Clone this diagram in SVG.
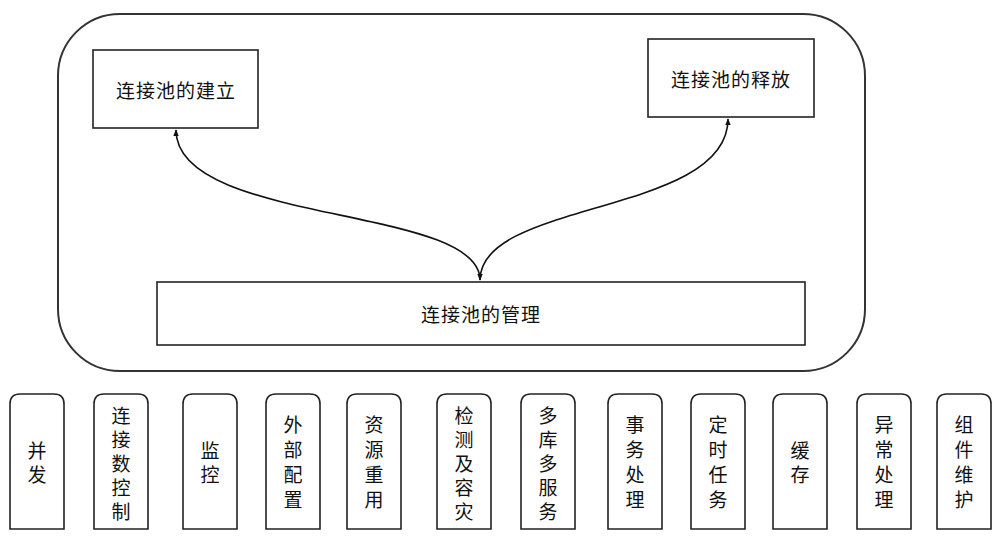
<svg xmlns="http://www.w3.org/2000/svg" width="1000" height="539" viewBox="0 0 1000 539">
<style>
.box{fill:#fff;stroke:#222;stroke-width:1.6}
.outer{fill:#fff;stroke:#333;stroke-width:2}
.t{font-family:"Noto Sans CJK SC","Noto Sans",sans-serif;font-size:19px;fill:#111;text-anchor:middle;dominant-baseline:central;letter-spacing:1px}
.v{font-family:"Noto Sans CJK SC","Noto Sans",sans-serif;font-size:19px;fill:#111;text-anchor:middle}
.edge{fill:none;stroke:#111;stroke-width:1.6}
</style>
<defs>
<marker id="ah" viewBox="0 0 10 10" refX="9" refY="5" markerWidth="7" markerHeight="7" orient="auto-start-reverse" markerUnits="userSpaceOnUse">
<path d="M0,1 L10,5 L0,9 Z" fill="#111"/>
</marker>
<path id="tab" d="M0,135 L0,10 Q0,0 10,0 L44,0 Q54,0 54,10 L54,135 Z"/>
</defs>
<rect width="1000" height="539" fill="#fff"/>
<g id="pool">
<rect class="outer" x="58" y="14" width="807" height="357" rx="62" ry="62"/>
</g>
<g id="n-build">
<rect class="box" x="93" y="50" width="165" height="78"/>
<text class="t" x="176" y="89">连接池的建立</text>
</g>
<g id="n-release">
<rect class="box" x="648" y="39" width="166" height="78"/>
<text class="t" x="731" y="78">连接池的释放</text>
</g>
<g id="n-manage">
<rect class="box" x="157" y="282" width="648" height="63"/>
<text class="t" x="481" y="313">连接池的管理</text>
</g>
<g id="connectors">
<path class="edge" d="M480,280 C480,205 176,225 176,130" marker-start="url(#ah)" marker-end="url(#ah)"/>
<path class="edge" d="M480,280 C480,200 728,215 728,119" marker-end="url(#ah)"/>
</g>
<g id="b1" transform="translate(10,394)"><use href="#tab" class="box"/><text class="v" x="27"><tspan x="27" y="64">并</tspan><tspan x="27" y="88">发</tspan></text></g>
<g id="b2" transform="translate(94,394)"><use href="#tab" class="box"/><text class="v" x="27"><tspan x="27" y="29">连</tspan><tspan x="27" y="53">接</tspan><tspan x="27" y="77">数</tspan><tspan x="27" y="101">控</tspan><tspan x="27" y="125">制</tspan></text></g>
<g id="b3" transform="translate(183,394)"><use href="#tab" class="box"/><text class="v" x="27"><tspan x="27" y="64">监</tspan><tspan x="27" y="88">控</tspan></text></g>
<g id="b4" transform="translate(266,394)"><use href="#tab" class="box"/><text class="v" x="27"><tspan x="27" y="38">外</tspan><tspan x="27" y="63">部</tspan><tspan x="27" y="88">配</tspan><tspan x="27" y="113">置</tspan></text></g>
<g id="b5" transform="translate(347,394)"><use href="#tab" class="box"/><text class="v" x="27"><tspan x="27" y="38">资</tspan><tspan x="27" y="63">源</tspan><tspan x="27" y="88">重</tspan><tspan x="27" y="113">用</tspan></text></g>
<g id="b6" transform="translate(437,394)"><use href="#tab" class="box"/><text class="v" x="27"><tspan x="27" y="29">检</tspan><tspan x="27" y="53">测</tspan><tspan x="27" y="77">及</tspan><tspan x="27" y="101">容</tspan><tspan x="27" y="125">灾</tspan></text></g>
<g id="b7" transform="translate(521,394)"><use href="#tab" class="box"/><text class="v" x="27"><tspan x="27" y="29">多</tspan><tspan x="27" y="53">库</tspan><tspan x="27" y="77">多</tspan><tspan x="27" y="101">服</tspan><tspan x="27" y="125">务</tspan></text></g>
<g id="b8" transform="translate(608,394)"><use href="#tab" class="box"/><text class="v" x="27"><tspan x="27" y="38">事</tspan><tspan x="27" y="63">务</tspan><tspan x="27" y="88">处</tspan><tspan x="27" y="113">理</tspan></text></g>
<g id="b9" transform="translate(691,394)"><use href="#tab" class="box"/><text class="v" x="27"><tspan x="27" y="38">定</tspan><tspan x="27" y="63">时</tspan><tspan x="27" y="88">任</tspan><tspan x="27" y="113">务</tspan></text></g>
<g id="b10" transform="translate(773,394)"><use href="#tab" class="box"/><text class="v" x="27"><tspan x="27" y="64">缓</tspan><tspan x="27" y="88">存</tspan></text></g>
<g id="b11" transform="translate(857,394)"><use href="#tab" class="box"/><text class="v" x="27"><tspan x="27" y="38">异</tspan><tspan x="27" y="63">常</tspan><tspan x="27" y="88">处</tspan><tspan x="27" y="113">理</tspan></text></g>
<g id="b12" transform="translate(937,394)"><use href="#tab" class="box"/><text class="v" x="27"><tspan x="27" y="38">组</tspan><tspan x="27" y="63">件</tspan><tspan x="27" y="88">维</tspan><tspan x="27" y="113">护</tspan></text></g>
</svg>
